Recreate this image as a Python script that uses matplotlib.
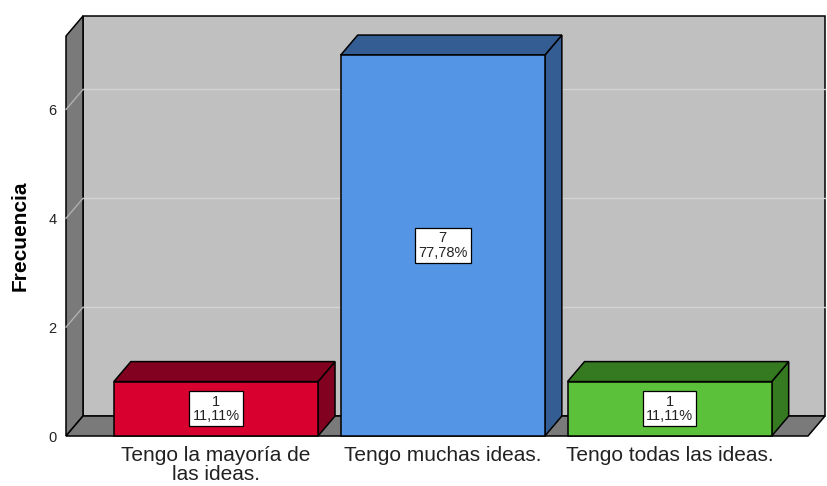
import matplotlib
matplotlib.use('Agg')
import matplotlib.pyplot as plt
from matplotlib.patches import Polygon, Rectangle

plt.rcParams['font.family'] = ['Liberation Sans', 'DejaVu Sans']

categorias = ["Tengo la mayoría de\nlas ideas.", "Tengo muchas ideas.", "Tengo todas las ideas."]
frecuencias = [1, 7, 1]
porcentajes = [11.11, 77.78, 11.11]

frente = ['#D7002E', '#5595E5', '#5CC13A']
oscuro = ['#820020', '#345E93', '#357A20']

# front plane limits (data units) and depth offset
x0, x1 = -0.661, 2.61
ymax = 7.35
ddx = 17 / 227.0
ddy = 20 / 54.5
w = 0.9

fig = plt.figure(figsize=(8.28, 4.86), dpi=100)
ax = fig.add_axes([66 / 828, 50 / 486, (808 - 66) / 828, 400 / 486])
ax.set_xlim(x0, x1)
ax.set_ylim(0, ymax)
for s in ax.spines.values():
    s.set_visible(False)

ek = dict(edgecolor='black', linewidth=1.1, clip_on=False, joinstyle='miter')

# walls
ax.add_patch(Polygon([(x0 + ddx, ddy), (x1 + ddx, ddy), (x1 + ddx, ymax + ddy), (x0 + ddx, ymax + ddy)],
                     facecolor='#C0C0C0', **ek, zorder=1))
ax.add_patch(Polygon([(x0, 0), (x0 + ddx, ddy), (x0 + ddx, ymax + ddy), (x0, ymax)],
                     facecolor='#7A7A7A', **ek, zorder=1))
ax.add_patch(Polygon([(x0, 0), (x1, 0), (x1 + ddx, ddy), (x0 + ddx, ddy)],
                     facecolor='#7A7A7A', **ek, zorder=1))

for yv in [2, 4, 6]:
    ax.plot([x0 + ddx, x1 + ddx], [yv + ddy, yv + ddy], color='#D4D4D4', lw=1, zorder=1.5, clip_on=False)
    ax.plot([x0, x0 + ddx], [yv, yv + ddy], color='#B0B0B0', lw=1, zorder=1.5, clip_on=False)

# bars
for i, v in enumerate(frecuencias):
    l, r = i - w / 2, i + w / 2
    ax.add_patch(Polygon([(r, 0), (r + ddx, ddy), (r + ddx, v + ddy), (r, v)],
                         facecolor=oscuro[i], **ek, zorder=2))
    ax.add_patch(Polygon([(l, v), (r, v), (r + ddx, v + ddy), (l + ddx, v + ddy)],
                         facecolor=oscuro[i], **ek, zorder=2))
    ax.add_patch(Rectangle((l, 0), w, v, facecolor=frente[i], **ek, zorder=3))
    txt = "%d\n%s%%" % (v, ("%.2f" % porcentajes[i]).replace('.', ','))
    ax.text(i, v / 2, txt, ha='center', va='center', fontsize=10.5, linespacing=1.05, zorder=4,
            color='#222222',
            bbox=dict(boxstyle='square,pad=0.22', facecolor='white', edgecolor='black', linewidth=0.9))

ax.set_yticks([0, 2, 4, 6])
ax.set_xticks(range(len(categorias)))
ax.set_xticklabels(categorias, fontsize=15, linespacing=0.98, color='#222222')
ax.tick_params(axis='y', length=0, pad=7, labelsize=10.5, labelcolor='#222222')
ax.tick_params(axis='x', length=0, pad=7.5)
ax.set_ylabel('Frecuencia', fontsize=15, fontweight='bold')
ax.yaxis.set_label_coords(-0.0485, 0.5)

fig.savefig('out.png', dpi=100)
